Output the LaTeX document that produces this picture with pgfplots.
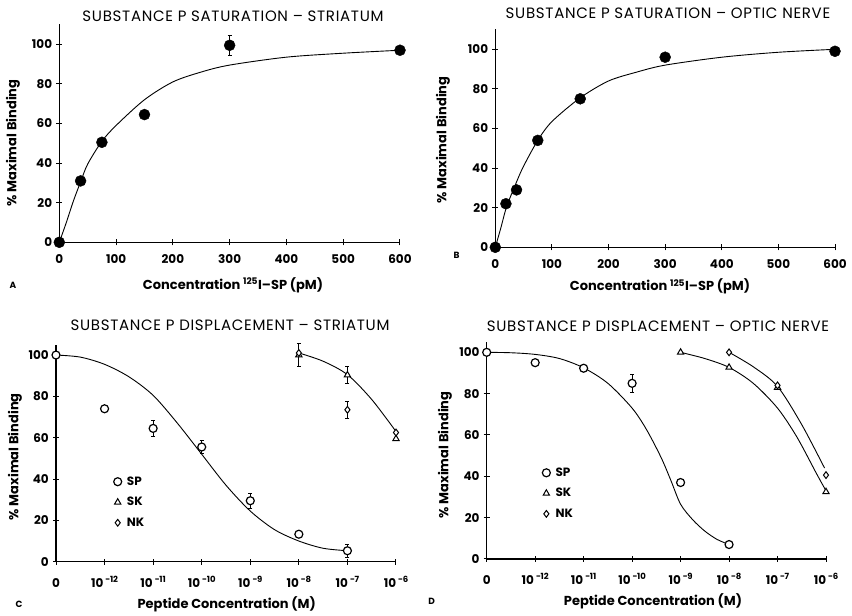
\documentclass[border=0pt]{standalone}
\usepackage{fontspec}
\setmainfont{Poppins}
\newfontfamily\titlefont[LetterSpace=4.7]{Poppins}
\usepackage{pgfplots}
\pgfplotsset{compat=1.18}

\newcommand{\ttl}{\titlefont\fontsize{15}{18}\selectfont}
\newcommand{\lbl}{\fontsize{13}{15}\selectfont\bfseries}
\newcommand{\ex}[1]{10\,\raisebox{0.75ex}{\fontsize{8.5}{9}\selectfont −#1}}

\pgfplotsset{
  panel/.style={
    scale only axis, clip=false,
    axis lines=left, axis line style={-, line width=1.3pt},
    tick align=center, major tick length=6pt,
    tick style={line width=1pt, black},
    xmin=0, ymin=0, ytick={0,20,...,100},
    ticklabel style={font=\fontsize{12}{14}\selectfont\bfseries},
    /pgf/number format/assume math mode=true,
    yticklabel style={inner sep=0pt, xshift=-4pt},
    xticklabel style={anchor=base, inner sep=0pt, yshift=-18.5pt},
  },
  fit/.style={black, line width=0.9pt, smooth, no marks, forget plot},
  errs/.style={forget plot, only marks, mark=none, black,
    error bars/.cd, y dir=both, y explicit,
    error bar style={black, line width=0.8pt},
    error mark options={rotate=90, mark size=2pt, black, line width=0.8pt}},
  logx/.style={xmax=7, ymax=105, xtick={0,...,7},
    xticklabels={0,\ex{12},\ex{11},\ex{10},\ex{9},\ex{8},\ex{7},\ex{6}},
    xticklabel style={yshift=-4pt},
    legend style={draw=none, fill=none, font=\fontsize{12}{14}\selectfont\bfseries,
      row sep=6.5pt, cells={anchor=west}, inner sep=0pt},
    legend image code/.code={\path (-4pt,0pt) (7pt,0pt); \draw[##1] plot coordinates {(0pt,0pt)};},
  },
  sp/.style={only marks, mark=*, mark size=4pt, black,
    mark options={draw=black, fill=white, line width=1.2pt}},
  sk/.style={only marks, mark=triangle*, mark size=3.6pt, black,
    mark options={draw=black, fill=white, line width=1pt}},
  nk/.style={only marks, mark=diamond*, mark size=3.4pt, black,
    mark options={draw=black, fill=white, line width=1pt}},
  Cpos/.style={panel, logx, at={(56pt,54.3pt)}, anchor=south west, width=340pt, height=217pt},
  Dpos/.style={panel, logx, at={(486.7pt,57pt)}, anchor=south west, width=339.3pt, height=217pt},
}

\begin{document}
\begin{tikzpicture}
\path[use as bounding box] (0,0) rectangle (852pt,616pt);

% ---- A: saturation, striatum
\begin{axis}[panel, at={(59.3pt,373.7pt)}, anchor=south west,
  width=340.7pt, height=217.8pt, xmax=600, ymax=110, xtick={0,100,...,600}]
\addplot[fit] coordinates {(0,0) (12,9.7) (25,21) (37.5,30.5) (50,39.5) (75,51) (100,59)
  (150,72) (200,81) (250,86) (300,89.5) (400,93.5) (500,95.5) (600,97)};
\addplot[errs] coordinates {(300,99.5) +- (0,5)};
\addplot[only marks, mark=*, mark size=5.5pt, black] coordinates {
  (0,0) (37.5,31) (75,50.5) (150,64.5) (300,99.5) (600,97)};
\end{axis}
\node[font=\ttl] at (233pt,599.3pt) {SUBSTANCE P SATURATION – STRIATUM};
\node[font=\lbl, rotate=90] at (13pt,473pt) {\% Maximal Binding};
\node[font=\lbl] at (233pt,331pt) {Concentration \textsuperscript{125}I–SP (pM)};
\node[font=\fontsize{9}{11}\selectfont\bfseries] at (13pt,331pt) {A};

% ---- B: saturation, optic nerve
\begin{axis}[panel, at={(495.3pt,368.7pt)}, anchor=south west,
  width=339.7pt, height=217.8pt, xmax=600, ymax=110, xtick={0,100,...,600}]
\addplot[fit] coordinates {(0,0) (10,10) (20,20.5) (37.5,33) (50,41) (75,54) (100,63.5)
  (150,75.5) (200,84) (250,88.5) (300,92) (400,96) (500,98.5) (600,100)};
\addplot[only marks, mark=*, mark size=5.5pt, black] coordinates {
  (0,0) (18.75,22) (37.5,29) (75,54) (150,75) (300,96) (600,99)};
\end{axis}
\node[font=\ttl] at (668pt,602.7pt) {SUBSTANCE P SATURATION – OPTIC NERVE};
\node[font=\lbl, rotate=90] at (443pt,476pt) {\% Maximal Binding};
\node[font=\lbl] at (660pt,329.3pt) {Concentration \textsuperscript{125}I–SP (pM)};
\node[font=\fontsize{9}{11}\selectfont\bfseries] at (456.7pt,361pt) {B};

% ---- C: displacement, striatum (error bars first, under the open marks)
\begin{axis}[Cpos, hide axis]
\addplot[errs] coordinates {(1,74) +- (0,1.5) (2,64.5) +- (0,4) (3,55.5) +- (0,3)
  (4,29.5) +- (0,3.5) (6,5.3) +- (0,3) (5,100) +- (0,5.5) (6,90.3) +- (0,4) (6,73.5) +- (0,4)};
\end{axis}
\begin{axis}[Cpos, legend style={at={(axis cs:1.18,42.2)}, anchor=north west}]
\addplot[fit] coordinates {(0,100) (0.5,99) (1,95.5) (1.5,89.5) (2,80.5) (2.5,67)
  (3,52) (3.5,37) (4,24.5) (4.5,15.5) (5,10) (5.5,6.5) (6,5.3)};
\addplot[fit] coordinates {(5,101) (5.5,97) (6,90.5) (6.5,78.5) (7,63)};
\addplot[sp] coordinates {(0,100) (1,74) (2,64.5) (3,55.5) (4,29.5) (5,13.3) (6,5.3)};
\addplot[sk] coordinates {(5,100) (6,90.3) (7,59.5)};
\addplot[nk] coordinates {(5,101) (6,73.5) (7,62.5)};
\legend{SP,SK,NK}
\end{axis}
\node[font=\ttl] at (230pt,291pt) {SUBSTANCE P DISPLACEMENT – STRIATUM};
\node[font=\lbl, rotate=90] at (15pt,159.3pt) {\% Maximal Binding};
\node[font=\lbl] at (226.7pt,12pt) {Peptide Concentration (M)};
\node[font=\fontsize{9}{11}\selectfont\bfseries] at (19pt,12pt) {C};

% ---- D: displacement, optic nerve
\begin{axis}[Dpos, hide axis]
\addplot[errs] coordinates {(3,85) +- (0,4.3)};
\end{axis}
\begin{axis}[Dpos, legend style={at={(axis cs:1.14,45.2)}, anchor=north west}]
\addplot[fit] coordinates {(0,100) (0.5,99.8) (1,99) (1.5,97) (2,92.5) (2.5,85) (3,73)
  (3.3,62.5) (3.6,49) (3.8,38) (4,26.5) (4.25,19) (4.5,13.5) (4.75,9.5) (5,7)};
\addplot[fit] coordinates {(4,100) (4.5,97) (5,92.7) (5.5,85) (6,73) (6.4,59) (6.8,41.5) (7,33)};
\addplot[fit] coordinates {(5,100) (5.5,93) (6,83.5) (6.5,65) (6.97,44)};
\addplot[sp] coordinates {(0,100) (1,95) (2,92.3) (3,85) (4,37) (5,7)};
\addplot[sk] coordinates {(4,100) (5,92.7) (6,83) (7,32.5)};
\addplot[nk] coordinates {(5,100) (6,84) (7,40.6)};
\legend{SP,SK,NK}
\end{axis}
\node[font=\ttl] at (658pt,289.3pt) {SUBSTANCE P DISPLACEMENT – OPTIC NERVE};
\node[font=\lbl, rotate=90] at (445pt,161pt) {\% Maximal Binding};
\node[font=\lbl] at (653pt,14.3pt) {Peptide Concentration (M)};
\node[font=\fontsize{9}{11}\selectfont\bfseries] at (431.7pt,14.3pt) {D};
\end{tikzpicture}
\end{document}
